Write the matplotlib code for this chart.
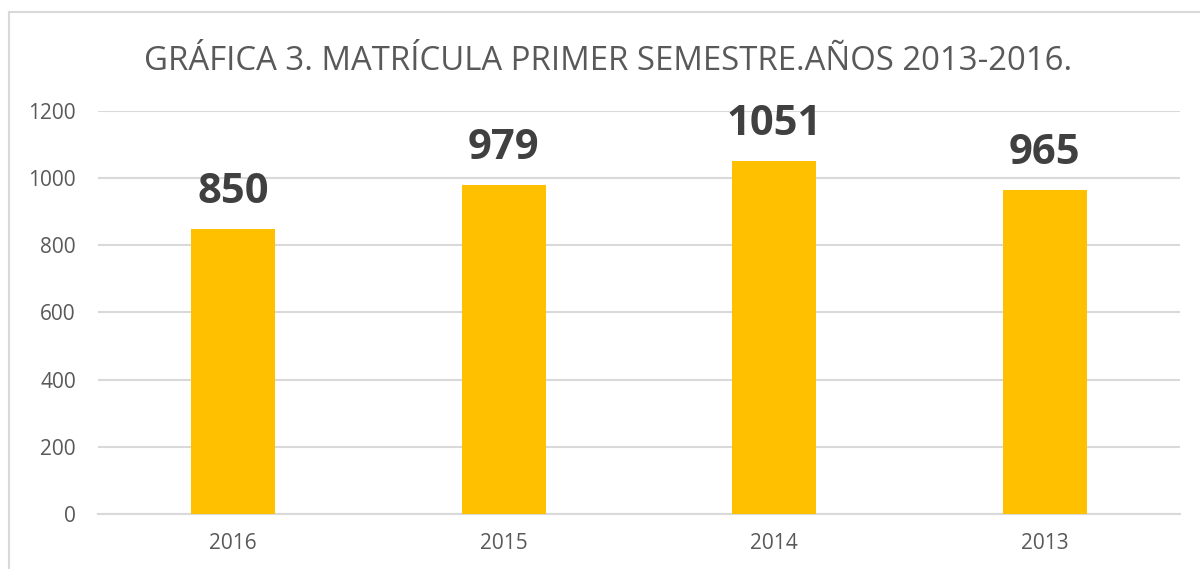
import matplotlib.pyplot as plt
from matplotlib.lines import Line2D

years = ['2016', '2015', '2014', '2013']
matricula = [850, 979, 1051, 965]
yticks = [0, 200, 400, 600, 800, 1000, 1200]

plt.rcParams['font.family'] = ['Open Sans', 'DejaVu Sans']

fig = plt.figure(figsize=(12, 5.69), dpi=100)
ax = fig.add_axes([0.0817, 0.0967, 0.9017, 0.7083])

bars = ax.bar(years, matricula, width=0.31, color='#FFC000', zorder=3)
for b, v in zip(bars, matricula):
    ax.annotate(str(v), (b.get_x() + b.get_width() / 2, v), xytext=(0, 18.5),
                textcoords='offset points', ha='center', va='baseline',
                fontsize=30, fontweight='bold', color='#404040')

ax.set_xlim(-0.5, 3.5)
ax.set_ylim(0, 1200)
ax.set_yticks(yticks)
ax.grid(axis='y', color='#d9d9d9', linewidth=1.5, zorder=0)
for s in ['top', 'right', 'left']:
    ax.spines[s].set_visible(False)
ax.spines['bottom'].set_color('#d9d9d9')
ax.spines['bottom'].set_linewidth(1.5)
ax.tick_params(axis='both', length=0, labelsize=15, labelcolor='#595959')
ax.tick_params(axis='y', pad=16)
ax.tick_params(axis='x', pad=14)

fig.text(0.507, (569 - 70) / 569, 'GRÁFICA 3. MATRÍCULA PRIMER SEMESTRE.AÑOS 2013-2016.',
         ha='center', va='baseline', fontsize=23.7, color='#595959')

# chart border (top and left edges visible)
fig.add_artist(Line2D([9 / 1200, 1], [1 - 12 / 569, 1 - 12 / 569], color='#d9d9d9', lw=1.5))
fig.add_artist(Line2D([9 / 1200, 9 / 1200], [0, 1 - 12 / 569], color='#d9d9d9', lw=1.5))

fig.savefig('out.png', dpi=100)
